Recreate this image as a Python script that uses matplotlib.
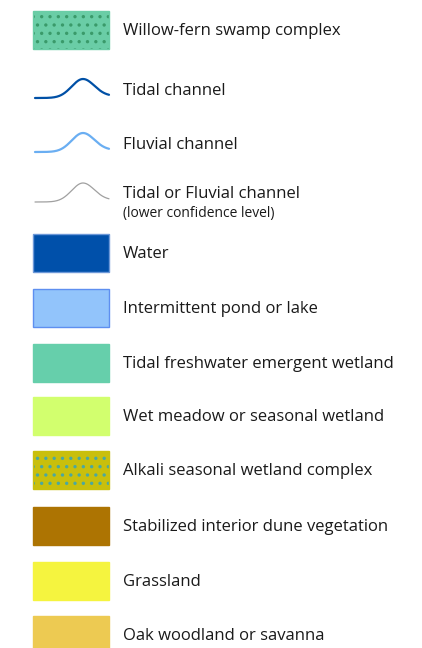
import matplotlib.pyplot as plt
import numpy as np
from matplotlib.patches import Rectangle
from matplotlib.colors import to_rgba

plt.rcParams['font.family'] = ['Open Sans', 'DejaVu Sans']

# Legend entries (top to bottom)
kinds = ['patch', 'line', 'line', 'line', 'patch', 'patch', 'patch', 'patch',
         'patch', 'patch', 'patch', 'patch']
labels = ['Willow-fern swamp complex', 'Tidal channel', 'Fluvial channel',
          'Tidal or Fluvial channel', 'Water', 'Intermittent pond or lake',
          'Tidal freshwater emergent wetland', 'Wet meadow or seasonal wetland',
          'Alkali seasonal wetland complex', 'Stabilized interior dune vegetation',
          'Grassland', 'Oak woodland or savanna']
sublabels = ['', '', '', '(lower confidence level)', '', '', '', '', '', '', '', '']
fills = ['#6ACDA6', '#0050A6', '#6AAEF2', '#A0A0A0', '#0050AA', '#92C4FB',
         '#66CFAB', '#D2FF6E', '#C9BF0C', '#AD7402', '#F5F43F', '#EDCA52']
edges = ['#6ACDA6', None, None, None, '#6C98D8', '#5E8FF0',
         '#66CFAB', '#D2FF6E', '#C9BF0C', '#AD7402', '#F5F43F', '#EDCA52']
hatches = ['..', None, None, None, None, None, None, None, '..', None, None, None]
hatch_colors = ['#3A9A6A', None, None, None, None, None, None, None, '#4AA8A0', None, None, None]
# vertical centre of each row, in pixels
rows = [30, 90, 144, 194, 253, 308, 363, 416, 470, 526, 581, 635]

fig = plt.figure(figsize=(4.22, 6.48), dpi=100)
ax = fig.add_axes([0, 0, 1, 1])
ax.set_xlim(0, 422)
ax.set_ylim(648, 0)
ax.axis('off')

x0, w, h = 33, 76, 38
# channel glyph: flat lead-in then a smooth bump
t = np.linspace(0, 1, 200)
gx = x0 + 2 + t * 74
bump = np.exp(-((gx - 83) / 16) ** 2)
gy = 8 - 19 * bump - 2 * (gx > 83) * (1 - bump)

for i, lab in enumerate(labels):
    yc = rows[i]
    if kinds[i] == 'patch':
        r = Rectangle((x0, yc - h / 2), w, h, facecolor=fills[i],
                      edgecolor=edges[i], linewidth=1, hatch=hatches[i])
        if hatches[i]:
            r.set_hatch_linewidth(1.2)
            r._hatch_color = to_rgba(hatch_colors[i])
        ax.add_patch(r)
    else:
        lw = 1.6 if i < 3 else 0.9
        ax.plot(gx, yc + gy, color=fills[i], linewidth=lw, solid_capstyle='round')
    if sublabels[i]:
        ax.text(123, yc, lab, fontsize=12, va='center', color='#1a1a1a')
        ax.text(123, yc + 20, sublabels[i], fontsize=10, va='center', color='#1a1a1a')
    else:
        ax.text(123, yc + 1, lab, fontsize=12, va='center', color='#1a1a1a')

plt.savefig('out.png', dpi=100)
